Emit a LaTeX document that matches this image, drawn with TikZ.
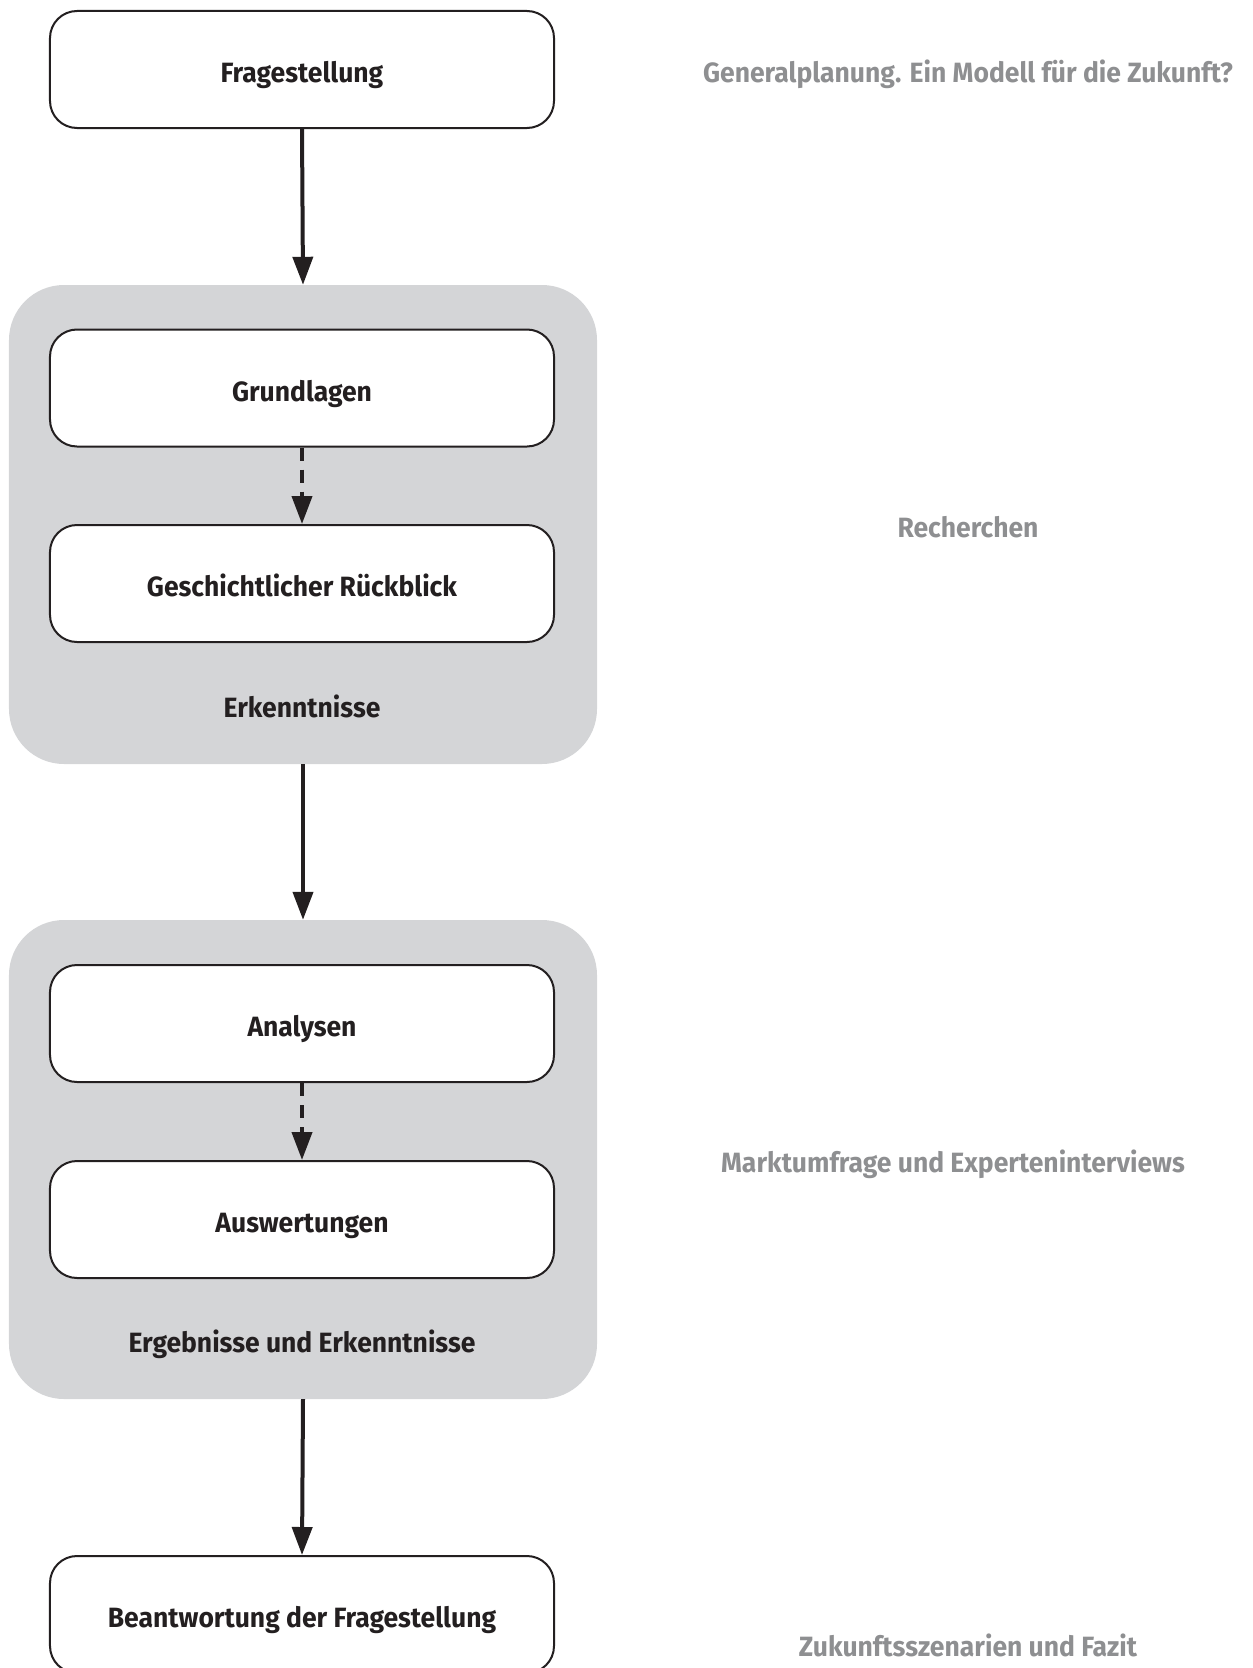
\documentclass[tikz,border=0pt]{standalone}
\usepackage{fontspec}
\setmainfont[FakeStretch=0.95]{Fira Sans}
\usetikzlibrary{arrows.meta}
\definecolor{panelgray}{HTML}{D4D5D7}
\definecolor{sidegray}{HTML}{8E8F91}
\definecolor{ink}{HTML}{231F20}
\tikzset{
  stepbox/.style={draw=ink, line width=2bp, fill=white, rounded corners=27bp,
    minimum width=504bp, minimum height=117bp, font=\fontsize{28}{32}\selectfont\bfseries, text=ink,
    text height=26.2pt, text depth=0pt},
  panel/.style={fill=panelgray, draw=none, rounded corners=55bp, minimum width=588bp, minimum height=479bp},
  panellabel/.style={font=\fontsize{28}{32}\selectfont\bfseries, text=ink, text height=19.3pt, text depth=0pt},
  sidelabel/.style={font=\fontsize{28}{32}\selectfont\bfseries, text=sidegray, text height=19.3pt, text depth=0pt},
  flow/.style={line width=4bp, draw=ink, -{Triangle[length=28bp,width=20bp]}},
  dflow/.style={flow, dash pattern=on 13bp off 9bp},
}
\begin{document}
\begin{tikzpicture}[x=1bp,y=-1bp]
\useasboundingbox (0,0) rectangle (1252,1668);
\clip (0,0) rectangle (1252,1668);
\node[panel] (p1) at (303,524.5) {};
\node[panel] (p2) at (303,1159.5) {};
\node[stepbox] (frage) at (302,69.5) {Fragestellung};
\node[stepbox] (grund) at (302,388) {Grundlagen};
\node[stepbox] (gesch) at (302,583.5) {Geschichtlicher Rückblick};
\node[panellabel] (erk) at (302,708) {Erkenntnisse};
\node[stepbox] (anal) at (302,1023.5) {Analysen};
\node[stepbox] (ausw) at (302,1219.5) {Auswertungen};
\node[panellabel] (erg) at (302,1343) {Ergebnisse und Erkenntnisse};
\node[stepbox] (antw) at (302,1614.5) {Beantwortung der Fragestellung};
\node[sidelabel] (s1) at (968,73) {Generalplanung. Ein Modell für die Zukunft?};
\node[sidelabel] (s2) at (968,528) {Recherchen};
\node[sidelabel] (s3) at (953,1163) {Marktumfrage und Experteninterviews};
\node[sidelabel] (s4) at (968,1647) {Zukunftsszenarien und Fazit};
\draw[flow] (frage.south) -- (p1.north);
\draw[dflow] (grund.south) -- (gesch.north);
\draw[flow] (p1.south) -- (p2.north);
\draw[dflow] (anal.south) -- (ausw.north);
\draw[flow] (p2.south) -- (antw.north);
\end{tikzpicture}
\end{document}
